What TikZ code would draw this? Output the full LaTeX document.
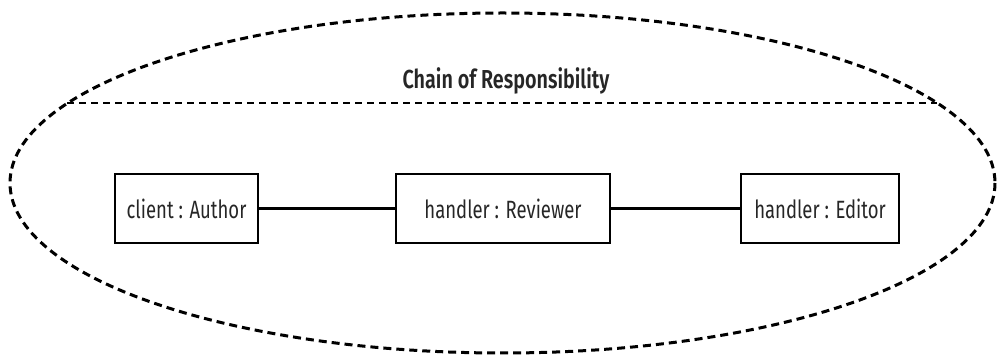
\documentclass[tikz,border=0pt]{standalone}
\usepackage{fontspec}
\setmainfont{Fira Sans}
\newfontfamily\condfont[FakeStretch=0.74]{Fira Sans}
\newfontfamily\condboldfont[FakeStretch=0.76]{Fira Sans SemiBold}
\begin{document}
\begin{tikzpicture}[x=1pt,y=-1pt,
  objbox/.style={draw, line width=2.8pt, minimum width=#1, minimum height=69pt, inner sep=0pt,
    font=\condfont\fontsize{25}{27}\selectfont, text=black!85},
  boundary/.style={line width=3pt, dash pattern=on 8pt off 5pt},
  link/.style={line width=2.4pt}]
\useasboundingbox (0,0) rectangle (997,358);
\draw[boundary] (502.5,183) ellipse [x radius=492.5, y radius=170];
\coordinate (hl) at (67,103);
\coordinate (hr) at (937,103);
\draw[line width=2.6pt, dash pattern=on 7pt off 5pt] (hl) -- (hr);
\node[font=\condboldfont\fontsize{26}{28}\selectfont, text=black!85, anchor=base] (title) at (506,89) {Chain of Responsibility};
\node[objbox=143pt] (author) at (186.5,208.5) {client : Author};
\node[objbox=214pt] (reviewer) at (503,208.5) {handler : Reviewer};
\node[objbox=158pt] (editor) at (820,208.5) {handler : Editor};
\draw[link] (author) -- (reviewer);
\draw[link] (reviewer) -- (editor);
\end{tikzpicture}
\end{document}
